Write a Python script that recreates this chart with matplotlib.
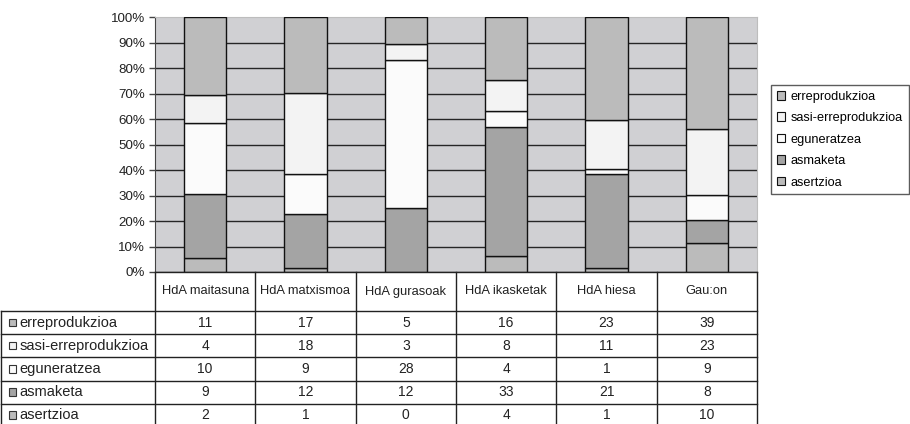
import matplotlib
matplotlib.use("Agg")
import matplotlib.pyplot as plt
import numpy as np
from matplotlib.patches import Rectangle

plt.rcParams['font.family'] = ['Liberation Sans', 'DejaVu Sans']

# data
categories = ["HdA maitasuna", "HdA matxismoa", "HdA gurasoak", "HdA ikasketak", "HdA hiesa", "Gau:on"]
series_names = ["erreprodukzioa", "sasi-erreprodukzioa", "eguneratzea", "asmaketa", "asertzioa"]
erreprodukzioa = [11, 17, 5, 16, 23, 39]
sasi_erreprodukzioa = [4, 18, 3, 8, 11, 23]
eguneratzea = [10, 9, 28, 4, 1, 9]
asmaketa = [9, 12, 12, 33, 21, 8]
asertzioa = [2, 1, 0, 4, 1, 10]
series_values = [erreprodukzioa, sasi_erreprodukzioa, eguneratzea, asmaketa, asertzioa]
series_colors = ["#bbbbbb", "#f3f3f3", "#fbfbfb", "#a4a4a4", "#bbbbbb"]

W, H = 910, 424
fig = plt.figure(figsize=(W / 100, H / 100), dpi=100)

# plot area in pixels
px0, px1, py_top, py_bot = 155, 757, 17, 272
ax = fig.add_axes([px0 / W, (H - py_bot) / H, (px1 - px0) / W, (py_bot - py_top) / H])
ax.set_facecolor("#d0d0d3")

data = np.array(series_values, dtype=float)
totals = data.sum(axis=0)
pct = data / totals * 100
x = np.arange(len(categories))

# stack from bottom (asertzioa) to top (erreprodukzioa)
bottom = np.zeros(len(categories))
handles = {}
for i in range(len(series_names) - 1, -1, -1):
    b = ax.bar(x, pct[i], 0.42, bottom=bottom, color=series_colors[i],
               edgecolor="#111111", linewidth=1.0, zorder=3, label=series_names[i])
    handles[series_names[i]] = b
    bottom += pct[i]

ax.set_xlim(-0.5, len(categories) - 0.5)
ax.set_ylim(0, 100)
ax.set_yticks(np.arange(0, 101, 10))
ax.set_yticklabels([f"{v}%" for v in range(0, 101, 10)], fontsize=9.6, color="#222222")
ax.set_xticks([])
ax.yaxis.grid(True, color="#262626", linewidth=1.0, zorder=1)
ax.set_axisbelow(True)
ax.get_ygridlines()[-1].set_visible(False)
ax.tick_params(axis="y", length=4, width=1, color="#444444", pad=3)
for s in ["top", "right"]:
    ax.spines[s].set_color("#bdbdbd")
ax.spines["left"].set_color("#444444")
ax.spines["bottom"].set_visible(False)

# legend
leg_handles = [handles[n] for n in series_names]
leg = fig.legend(leg_handles, series_names, loc="upper left",
                 bbox_to_anchor=(771 / W, 1 - 85 / H), frameon=True, fancybox=False,
                 edgecolor="#333333", fontsize=9.2, handlelength=0.65, handleheight=0.65,
                 handletextpad=0.45, labelspacing=0.74, borderpad=0.45, borderaxespad=0)
leg.get_frame().set_linewidth(1.0)
for h in leg.legend_handles:
    h.set_linewidth(0.8)

# table drawn in figure pixel space
tax = fig.add_axes([0, 0, 1, 1], zorder=5)
tax.set_xlim(0, W)
tax.set_ylim(H, 0)
tax.axis("off")

col_edges = np.linspace(px0, px1, len(categories) + 1)
head_top, head_bot = py_bot, 311
row_h = 23.2
n_rows = len(series_names)
row_edges = head_bot + row_h * np.arange(n_rows + 1)
line_kw = dict(color="#222222", linewidth=1.0)

for xe in col_edges:
    tax.plot([xe, xe], [head_top, row_edges[-1]], **line_kw)
tax.plot([1, 1], [head_bot, row_edges[-1]], **line_kw)
tax.plot([px0, px1], [head_top, head_top], **line_kw)
for ye in row_edges:
    tax.plot([1, px1], [ye, ye], **line_kw)

for j, cat in enumerate(categories):
    cx = (col_edges[j] + col_edges[j + 1]) / 2
    tax.text(cx, (head_top + head_bot) / 2, cat, ha="center", va="center",
             fontsize=9.3, color="#222222")
    for i in range(n_rows):
        cy = (row_edges[i] + row_edges[i + 1]) / 2
        tax.text(cx, cy, str(series_values[i][j]), ha="center", va="center",
                 fontsize=10, color="#222222")

for i, name in enumerate(series_names):
    cy = (row_edges[i] + row_edges[i + 1]) / 2
    tax.add_patch(Rectangle((8.5, cy - 4), 7.5, 7.5, facecolor=series_colors[i],
                            edgecolor="#333333", linewidth=0.8))
    tax.text(19.5, cy, name, ha="left", va="center", fontsize=10.5, color="#222222")

fig.savefig("out.png", dpi=100)
